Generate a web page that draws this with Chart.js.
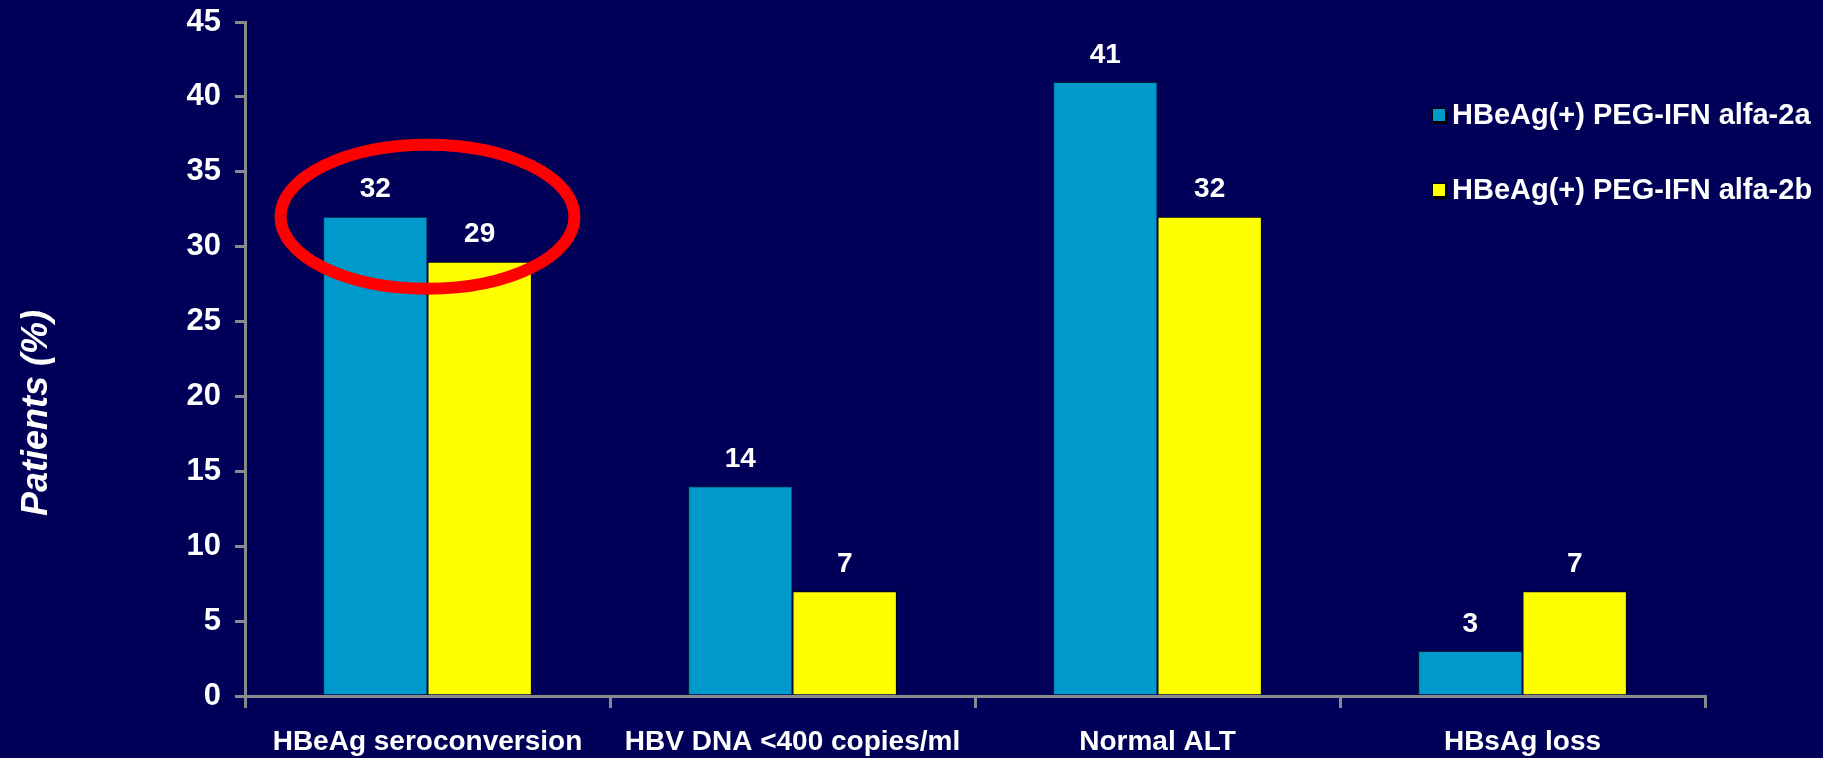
<!DOCTYPE html>
<html>
<head>
<meta charset="utf-8">
<script src="https://cdn.jsdelivr.net/npm/chart.js@4/dist/chart.umd.min.js"></script>
<style>
  html, body { margin: 0; padding: 0; background: #000058; }
  canvas { display: block; }
</style>
</head>
<body>
<canvas id="chart" width="1823" height="758"></canvas>
<script>
// Response rates by endpoint, two PEG-IFN regimens
const categories = ['HBeAg seroconversion', 'HBV DNA <400 copies/ml', 'Normal ALT', 'HBsAg loss'];
const seriesNames = ['HBeAg(+) PEG-IFN alfa-2a', 'HBeAg(+) PEG-IFN alfa-2b'];
const alfa2a = [32, 14, 41, 3];
const alfa2b = [29, 7, 32, 7];
const yTicks = [0, 5, 10, 15, 20, 25, 30, 35, 40, 45];
const yTitle = 'Patients (%)';

const FONT = '"Liberation Sans", Arial, Helvetica, sans-serif';
const AXIS_GRAY = '#8a8a8a';
const BG = '#000058';
const COLORS = ['#0099CC', '#FFFF00'];

// Solid navy backdrop
const backdrop = {
  id: 'backdrop',
  beforeDraw(chart) {
    const { ctx, width, height } = chart;
    ctx.save();
    ctx.fillStyle = BG;
    ctx.fillRect(0, 0, width, height);
    ctx.restore();
  }
};

// Value printed above each bar
const valueLabels = {
  id: 'valueLabels',
  afterDatasetsDraw(chart) {
    const { ctx } = chart;
    ctx.save();
    ctx.fillStyle = '#ffffff';
    ctx.font = 'bold 28px ' + FONT;
    ctx.textAlign = 'center';
    ctx.textBaseline = 'middle';
    chart.data.datasets.forEach((ds, di) => {
      const meta = chart.getDatasetMeta(di);
      meta.data.forEach((bar, i) => {
        ctx.fillText(String(ds.data[i]), bar.x, bar.y - 27);
      });
    });
    ctx.restore();
  }
};

// Red ring highlighting the first endpoint
const highlight = {
  id: 'highlight',
  afterDatasetsDraw(chart) {
    const { ctx, scales } = chart;
    const cx = scales.x.getPixelForValue(0);
    const cy = scales.y.getPixelForValue(Math.max(alfa2a[0], alfa2b[0]));
    ctx.save();
    ctx.strokeStyle = '#FF0000';
    ctx.lineWidth = 12;
    ctx.beginPath();
    ctx.ellipse(cx, cy, 147, 72, 0, 0, Math.PI * 2);
    ctx.stroke();
    ctx.restore();
  }
};

// Legend in the upper right, drawn from the dataset labels and colours
const sideLegend = {
  id: 'sideLegend',
  afterDraw(chart) {
    const { ctx } = chart;
    const x0 = 1432, rows = [115, 190], box = 14;
    ctx.save();
    ctx.font = 'bold 29px ' + FONT;
    ctx.textBaseline = 'middle';
    ctx.textAlign = 'left';
    chart.data.datasets.forEach((ds, i) => {
      const y = rows[i];
      ctx.fillStyle = '#000000';
      ctx.fillRect(x0 + 2, y - box / 2 + 2, box, box);
      ctx.fillStyle = ds.backgroundColor;
      ctx.fillRect(x0, y - box / 2, box, box);
      ctx.strokeStyle = '#000000';
      ctx.lineWidth = 1;
      ctx.strokeRect(x0 + 0.5, y - box / 2 + 0.5, box - 1, box - 1);
      ctx.fillStyle = '#ffffff';
      ctx.fillText(ds.label, x0 + 20, y + 1);
    });
    ctx.restore();
  }
};

// Rotated y-axis title
const yAxisTitle = {
  id: 'yAxisTitle',
  afterDraw(chart) {
    const { ctx } = chart;
    ctx.save();
    ctx.translate(37, 413);
    ctx.rotate(-Math.PI / 2);
    ctx.font = 'italic bold 36px ' + FONT;
    ctx.fillStyle = '#ffffff';
    ctx.textAlign = 'center';
    ctx.textBaseline = 'middle';
    ctx.fillText(yTitle, 0, 0);
    ctx.restore();
  }
};

new Chart(document.getElementById('chart'), {
  type: 'bar',
  data: {
    labels: categories,
    datasets: [
      { label: seriesNames[0], data: alfa2a, backgroundColor: COLORS[0], borderColor: '#002233', borderWidth: 1 },
      { label: seriesNames[1], data: alfa2b, backgroundColor: COLORS[1], borderColor: '#000000', borderWidth: 1 }
    ]
  },
  options: {
    responsive: false,
    animation: false,
    devicePixelRatio: 1,
    layout: { padding: { top: 22, right: 118, left: 0, bottom: 0 } },
    datasets: { bar: { categoryPercentage: 0.572, barPercentage: 1.0 } },
    plugins: {
      legend: { display: false },
      tooltip: { enabled: false },
      title: { display: false }
    },
    scales: {
      x: {
        z: 1,
        offset: true,
        grid: { offset: true, drawOnChartArea: false, drawTicks: true, tickLength: 12, color: AXIS_GRAY, lineWidth: 3 },
        border: { color: AXIS_GRAY, width: 3 },
        ticks: { color: '#ffffff', font: { family: FONT, size: 28, weight: 'bold' }, padding: 17, maxRotation: 0, autoSkip: false },
        afterFit(scale) { scale.height = 62; scale.paddingLeft = 0; scale.paddingRight = 0; }
      },
      y: {
        z: 1,
        min: 0,
        max: 45,
        afterBuildTicks(scale) { scale.ticks = yTicks.map(v => ({ value: v })); },
        grid: { drawOnChartArea: false, drawTicks: true, tickLength: 10, color: AXIS_GRAY, lineWidth: 3 },
        border: { color: AXIS_GRAY, width: 3 },
        ticks: { color: '#ffffff', font: { family: FONT, size: 31, weight: 'bold' }, padding: 14 },
        afterFit(scale) { scale.width = 245; scale.paddingTop = 0; scale.paddingBottom = 0; }
      }
    }
  },
  plugins: [backdrop, highlight, valueLabels, sideLegend, yAxisTitle]
});
</script>
</body>
</html>
